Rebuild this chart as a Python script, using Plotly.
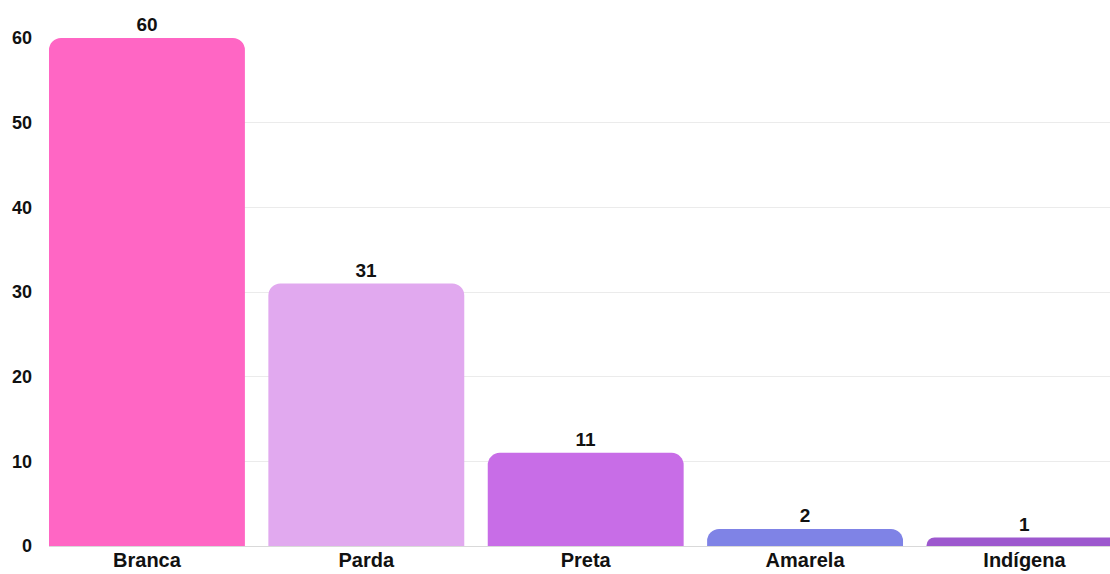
import plotly.graph_objects as go

categories = ["Branca", "Parda", "Preta", "Amarela", "Indígena"]
values = [60, 31, 11, 2, 1]
colors = ["#FF66C4", "#E1A9EF", "#C86DE7", "#7F83E6", "#9D58CE"]
y_ticks = [0, 10, 20, 30, 40, 50, 60]

font_family = "Liberation Sans, Arial, sans-serif"

fig = go.Figure(
    go.Bar(
        x=categories,
        y=values,
        marker=dict(color=colors, cornerradius=12, line=dict(width=0)),
        text=[str(v) for v in values],
        textposition="outside",
        textfont=dict(family=font_family, size=19, color="#111111", weight="bold"),
        cliponaxis=False,
        hoverinfo="skip",
    )
)

fig.update_layout(
    width=1110,
    height=574,
    margin=dict(l=49, r=0, t=38, b=28),
    paper_bgcolor="white",
    plot_bgcolor="white",
    bargap=0.107,
    showlegend=False,
    font=dict(family=font_family, size=18, color="#111111"),
    xaxis=dict(
        range=[-0.4465, 4.39],
        showgrid=False,
        zeroline=False,
        showline=False,
        ticks="",
        tickfont=dict(family=font_family, size=20, color="#111111", weight="bold"),
        fixedrange=True,
    ),
    yaxis=dict(
        range=[0, 60],
        tickvals=y_ticks,
        ticktext=[str(t) for t in y_ticks],
        showgrid=True,
        gridcolor="#EBEBEB",
        gridwidth=1,
        zeroline=True,
        zerolinecolor="#D9D9D9",
        zerolinewidth=1,
        showline=False,
        ticks="",
        ticklabelstandoff=16,
        tickfont=dict(family=font_family, size=18, color="#111111", weight="bold"),
        fixedrange=True,
    ),
)

# remove the page's default body margin so the figure fills the window exactly
fig.write_html(
    "out.html",
    config={"displayModeBar": False, "staticPlot": True},
    post_script="document.body.style.margin='0';document.body.style.overflow='hidden';",
)
